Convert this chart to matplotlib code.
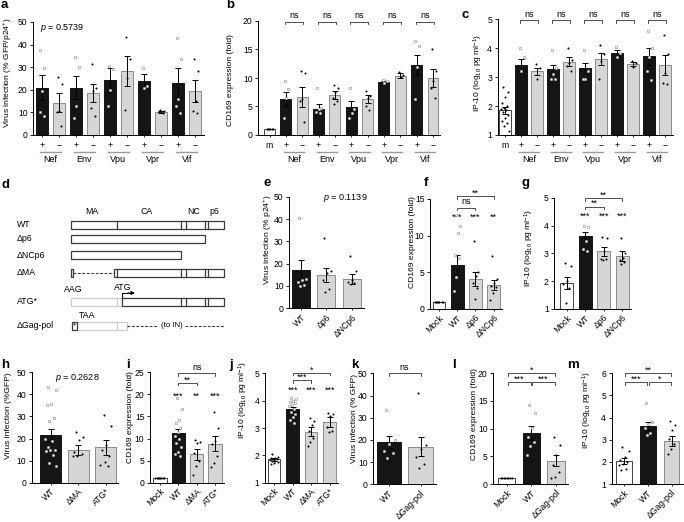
import numpy as np
import matplotlib
matplotlib.use("Agg")
import matplotlib.pyplot as plt
from matplotlib.patches import Rectangle
from matplotlib.transforms import offset_copy

plt.rcParams['font.family'] = ['Liberation Sans', 'DejaVu Sans']
plt.rcParams['mathtext.fontset'] = 'custom'
plt.rcParams['mathtext.rm'] = 'Liberation Sans'
plt.rcParams['mathtext.it'] = 'Liberation Sans:italic'
plt.rcParams['mathtext.bf'] = 'Liberation Sans:bold'
plt.rcParams['axes.linewidth'] = 0.7

W, H = 684, 522
MINUS = '\u2212'

# ---- data ----
accessory = ['Nef', 'Env', 'Vpu', 'Vpr', 'Vif']

a_mean = [21.0, 14.3, 21.0, 18.5, 24.3, 28.3, 24.0, 10.2, 23.0, 19.5]
a_sem = [5.5, 4.2, 5.0, 4.0, 5.2, 6.8, 2.8, 0.5, 6.5, 5.0]
a_pts = [[37.5, 29.5, 19.5, 10.0, 8.6], [25.5, 22.5, 10.6, 10.0, 4.1],
         [34.5, 30.0, 13.0, 7.7], [31.5, 21.0, 19.5, 11.8, 8.5],
         [30.5, 29.0, 20.0, 13.0], [43.5, 33.5, 25.0, 11.0],
         [29.5, 21.5, 21.0], [11.0, 10.5, 10.2, 10.0, 9.8],
         [43.0, 33.5, 15.9, 13.0, 9.6], [33.5, 28.5, 15.0, 10.8, 9.6]]

b_mean = [1.0, 6.3, 6.7, 4.6, 7.1, 4.9, 6.3, 9.3, 10.4, 12.3, 10.0]
b_sem = [0.0, 1.2, 1.8, 0.9, 0.7, 1.1, 0.7, 0.2, 0.4, 1.8, 1.5]
b_pts = [[1.0] * 6, [9.5, 8.0, 6.5, 3.0], [11.3, 10.8, 6.3, 6.0, 2.2],
         [8.3, 4.8, 4.5, 4.0, 3.8], [8.8, 8.3, 7.5, 6.5, 6.0, 5.5],
         [8.3, 4.5, 3.8, 3.0], [7.8, 6.8, 6.5, 5.0, 4.3], [9.6, 9.4, 9.2],
         [11.1, 10.6, 10.2], [16.5, 15.7, 12.0, 6.3], [15.0, 11.2, 9.5, 8.2, 6.5]]

c_mean = [1.85, 3.42, 3.2, 3.27, 3.53, 3.3, 3.63, 3.83, 3.45, 3.72, 3.42]
c_sem = [0.12, 0.2, 0.13, 0.15, 0.15, 0.2, 0.22, 0.1, 0.07, 0.3, 0.33]
c_pts = [[2.65, 2.5, 2.3, 2.1, 2.0, 1.95, 1.9, 1.85, 1.8, 1.7, 1.6, 1.5, 1.4, 1.3, 1.15],
         [4.0, 3.7, 3.2], [3.45, 3.3, 2.95], [3.95, 3.3, 3.1, 2.95, 2.95],
         [4.0, 3.6, 3.5, 3.4, 3.2], [3.95, 3.2, 2.95, 2.95], [4.1, 3.8, 3.55, 2.95],
         [4.05, 3.85, 3.7], [3.55, 3.5, 3.35], [4.6, 4.0, 3.7, 3.2, 2.9],
         [4.45, 3.8, 3.15, 2.8, 2.75]]

e_labels = ['WT', '\u0394p6', '\u0394NCp6']
e_mean = [17.3, 15.0, 13.3]
e_sem = [4.2, 3.0, 2.2]
e_pts = [[40.5, 13.0, 12.5, 12.0, 10.5, 10.0], [31.5, 16.5, 16.0, 12.5, 8.5, 7.5],
         [23.5, 16.5, 12.5, 12.0, 11.5, 11.0]]

f_labels = ['Mock', 'WT', '\u0394p6', '\u0394NCp6']
f_mean = [1.0, 6.0, 4.1, 3.3]
f_sem = [0.0, 1.3, 0.9, 0.7]
f_pts = [[1.0] * 7, [12.8, 11.3, 10.3, 7.3, 7.0, 4.4, 2.4], [9.3, 5.1, 4.5, 3.5, 2.8, 1.4],
         [7.2, 4.1, 3.5, 3.2, 3.0, 2.2, 1.2]]

g_mean = [1.93, 3.62, 3.07, 2.9]
g_sem = [0.22, 0.16, 0.15, 0.17]
g_pts = [[2.65, 2.55, 2.0, 1.9, 1.75, 1.2], [4.0, 3.95, 3.45, 3.15, 3.1],
         [3.6, 3.55, 3.1, 2.8, 2.8, 2.75], [3.55, 3.0, 2.85, 2.75, 2.7, 2.6]]

h_labels = ['WT', '\u0394MA', 'ATG*']
h_mean = [21.5, 15.0, 16.0]
h_sem = [3.0, 2.3, 3.5]
h_pts = [[43.5, 42.0, 35.5, 35.0, 29.5, 28.0, 20.0, 19.0, 16.0, 15.0, 15.0, 14.5, 12.5, 9.0, 7.5],
         [23.0, 20.5, 19.5, 14.0, 13.0, 12.0, 12.0],
         [30.5, 25.5, 17.0, 15.0, 12.0, 9.5, 8.0, 7.5]]

i_labels = ['Mock', 'WT', '\u0394MA', 'ATG*']
i_mean = [1.0, 11.2, 6.4, 8.8]
i_sem = [0.0, 1.0, 1.3, 1.7]
i_pts = [[1.0] * 8, [19.2, 16.7, 14.3, 13.5, 12.5, 11.5, 10.5, 10.0, 9.0, 8.0, 7.0, 6.5, 6.0],
         [9.6, 9.3, 9.0, 6.8, 5.0, 3.8, 1.7], [16.0, 12.5, 9.5, 8.7, 6.0, 4.5, 3.5]]

j_mean = [1.85, 3.68, 2.87, 3.22]
j_sem = [0.05, 0.1, 0.15, 0.18]
j_pts = [[2.05, 1.95, 1.92, 1.9, 1.88, 1.85, 1.83, 1.8, 1.78, 1.75, 1.72, 1.7],
         [4.1, 4.05, 4.0, 3.95, 3.9, 3.85, 3.8, 3.7, 3.6, 3.5, 3.4, 3.3, 3.2],
         [3.35, 3.25, 3.1, 2.9, 2.65, 2.5, 2.35], [3.55, 3.5, 3.45, 3.05, 2.9, 2.85]]

k_labels = ['WT', '\u0394Gag-pol']
k_mean = [19.0, 17.0]
k_sem = [2.8, 4.2]
k_pts = [[33.5, 20.0, 18.0, 15.0, 14.0, 12.0], [41.0, 17.5, 16.0, 12.5, 9.0, 7.5]]

l_labels = ['Mock', 'WT', '\u0394Gag-pol']
l_mean = [1.0, 9.2, 4.2]
l_sem = [0.0, 1.2, 1.0]
l_pts = [[1.0] * 8, [14.2, 12.8, 10.2, 8.5, 7.5, 6.8, 5.3], [8.5, 7.0, 5.2, 3.5, 2.2, 1.3, 1.0]]

m_mean = [2.05, 3.63, 2.93]
m_sem = [0.13, 0.19, 0.22]
m_pts = [[2.65, 2.5, 2.2, 2.1, 2.0, 1.9, 1.85, 1.7, 1.65], [4.65, 3.8, 3.7, 3.55, 3.3, 3.2],
         [3.85, 3.65, 3.45, 3.05, 2.8, 2.6, 2.35]]

# gag schematic (panel d)
construct_names = ['WT', '\u0394p6', '\u0394NCp6', '\u0394MA', 'ATG*', '\u0394Gag-pol']
domain_names = ['MA', 'CA', 'NC', 'p6']
gag_bounds = [71, 116.7, 180.5, 186, 205, 208, 224]

BLACK = '#151515'
GRAY = '#d6d6d6'
GRAY_EDGE = '#8c8c8c'
LAB = 'IP-10 (log$_{10}$ pg ml$^{-1}$)'

fig = plt.figure(figsize=(W / 100, H / 100), dpi=100)


def px_axes(l, r, t, b):
    return fig.add_axes([l / W, 1 - b / H, (r - l) / W, (b - t) / H])


def spread(n, w):
    if n == 1:
        return np.zeros(1)
    return (((np.arange(n) * 0.618 + 0.31) % 1.0) - 0.5) * 2 * w


def panel(box, c0, sp, ylim, yticks, means, sems, pts, kinds, width, ylabel, lab_xy, labels=None):
    l, r, t, b = box
    ax = px_axes(l, r, t, b)
    ax.set_xlim((l - c0) / sp, (r - c0) / sp)
    ax.set_ylim(ylim)
    ax.set_yticks(yticks)
    for s in ['top', 'right']:
        ax.spines[s].set_visible(False)
    ax.tick_params(axis='y', length=2.5, width=0.6, pad=1.5, labelsize=6.2)
    ax.tick_params(axis='x', length=1.5, width=0.6, pad=1.5, labelsize=6.2)
    base = ylim[0]
    x = np.arange(len(means))
    for xi, mval, sval, p, k in zip(x, means, sems, pts, kinds):
        fc, ec = {'k': (BLACK, BLACK), 'g': (GRAY, GRAY_EDGE), 'w': ('white', '#444444')}[k]
        ax.bar(xi, mval - base, width, bottom=base, color=fc, edgecolor=ec, linewidth=0.7, zorder=2)
        if sval > 0:
            ax.errorbar(xi, mval, yerr=sval, fmt='none', ecolor='black', elinewidth=0.7,
                        capsize=2, capthick=0.7, zorder=3)
        offs = spread(len(p), width * (0.36 if k == 'w' else 0.28))
        if k == 'k':
            ax.scatter(xi + offs, p, s=3.5, facecolor='white', edgecolor='#888888', linewidth=0.4, zorder=4)
        else:
            ax.scatter(xi + offs, p, s=2.2, color='black', linewidth=0, zorder=4)
    ax.set_xticks(x)
    if labels is not None:
        ax.set_xticklabels(labels, rotation=45, ha='right', rotation_mode='anchor')
    fig.text(lab_xy[0] / W, 1 - lab_xy[1] / H, ylabel, rotation=90, ha='center', va='center', fontsize=6.1)
    return ax


def drop_of(ax):
    y0, y1 = ax.get_ylim()
    return 2.6 * (y1 - y0) / (ax.get_position().height * H)


def bracket(ax, x1, x2, y, label):
    d = drop_of(ax)
    ax.plot([x1, x1, x2, x2], [y - d, y, y, y - d], color='#333333', lw=0.6, clip_on=False)
    off = 2.5 if label == 'ns' else 0.3
    ax.annotate(label, ((x1 + x2) / 2, y), xytext=(0, off), textcoords='offset points',
                ha='center', va='baseline', fontsize=6.5, annotation_clip=False)


def stars(ax, xs, y, marks):
    for xi, s in zip(xs, marks):
        ax.annotate(s, (xi, y), xytext=(0, -3.6), textcoords='offset points',
                    ha='center', va='baseline', fontsize=6.5, annotation_clip=False)


def pm_axis(ax, first, groups):
    n = len(ax.get_xticks())
    labs = []
    if first:
        labs.append(first)
    while len(labs) < n:
        labs += ['+', MINUS]
    ax.set_xticklabels(labs)
    ax.tick_params(axis='x', pad=2.5)
    start = 1 if first else 0
    tr_line = offset_copy(ax.get_xaxis_transform(), fig=fig, y=-12.3, units='points')
    tr_text = offset_copy(ax.get_xaxis_transform(), fig=fig, y=-17.8, units='points')
    for gi, name in enumerate(groups):
        x1 = start + 2 * gi
        ax.plot([x1 - 0.12, x1 + 1.12], [0, 0], color='#9a9a9a', lw=1.0, transform=tr_line, clip_on=False)
        ax.text(x1 + 0.5, 0, name, transform=tr_text, ha='center', va='center', fontsize=6.5)


def letter(s, x, y):
    fig.text(x / W, 1 - y / H, s, fontsize=9.5, fontweight='bold', ha='left', va='baseline')


# ---- row 1 ----
kinds_pm = ['k', 'g'] * 5
ax = panel((33.3, 203.5, 22, 135), 41.7, 17.06, (0, 50), range(0, 51, 10), a_mean, a_sem, a_pts,
           kinds_pm, 0.68, 'Virus infection (% GFP/p24$^{+}$)', (8.3, 73))
pm_axis(ax, None, accessory)
ax.text(-0.1, 47.5, '$p$ = 0.5739', fontsize=6.5, ha='left', va='center')

ax = panel((258.3, 440, 21, 135), 269.5, 16.35, (0, 20), range(0, 21, 5), b_mean, b_sem, b_pts,
           ['w'] + kinds_pm, 0.67, 'CD169 expression (fold)', (231, 80))
pm_axis(ax, 'm', accessory)
for gi in range(5):
    bracket(ax, 1 + 2 * gi - 0.05, 2 + 2 * gi + 0.05, 19.9, 'ns')

ax = panel((497.7, 673, 19.3, 135), 505, 16.0, (1, 5), range(1, 6), c_mean, c_sem, c_pts,
           ['w'] + kinds_pm, 0.69, LAB, (478, 73))
pm_axis(ax, 'm', accessory)
for gi in range(5):
    bracket(ax, 1 + 2 * gi - 0.05, 2 + 2 * gi + 0.05, 4.96, 'ns')

# ---- row 2 ----
ax = panel((289.3, 364, 196.7, 308.3), 301.2, 25.2, (0, 50), range(0, 51, 10), e_mean, e_sem, e_pts,
           ['k', 'g', 'g'], 0.72, 'Virus infection (% p24$^{+}$)', (268, 240), e_labels)
ax.text(2.62, 49.5, '$p$ = 0.1139', fontsize=6.5, ha='right', va='center')

ax = panel((430, 502, 199, 309), 439, 18.2, (0, 15), range(0, 16, 5), f_mean, f_sem, f_pts,
           ['w', 'k', 'g', 'g'], 0.7, 'CD169 expression (fold)', (412, 242), f_labels)
stars(ax, [1, 2, 3], 12.8, ['***', '***', '**'])
bracket(ax, 1, 2, 13.8, 'ns')
bracket(ax, 1, 3, 15.4, '**')

ax = panel((554.3, 631, 197.7, 309), 566.7, 18.5, (1, 5), range(1, 6), g_mean, g_sem, g_pts,
           ['w', 'k', 'g', 'g'], 0.72, LAB, (529, 248), f_labels)
stars(ax, [1, 2, 3], 4.41, ['***', '***', '***'])
bracket(ax, 1, 2, 4.68, '**')
bracket(ax, 1, 3, 4.98, '**')

# ---- row 3 ----
ax = panel((31.7, 118, 372.3, 482.7), 50.5, 27.7, (0, 50), range(0, 51, 10), h_mean, h_sem, h_pts,
           ['k', 'g', 'g'], 0.76, 'Virus infection (%GFP)', (9, 416), h_labels)
ax.text(0.16, 47.3, '$p$ = 0.2628', fontsize=6.5, ha='left', va='center')

ax = panel((150, 224, 372.3, 482.7), 160, 18.33, (0, 25), range(0, 26, 5), i_mean, i_sem, i_pts,
           ['w', 'k', 'g', 'g'], 0.73, 'CD169 expression (fold)', (130, 417), i_labels)
stars(ax, [1, 2, 3], 20.2, ['***', '**', '***'])
bracket(ax, 1, 2, 22.6, '**')
bracket(ax, 1, 3, 24.8, 'ns')

ax = panel((265, 338, 373.3, 482.7), 274.2, 18.5, (1, 5), range(1, 6), j_mean, j_sem, j_pts,
           ['w', 'k', 'g', 'g'], 0.68, LAB, (243, 400), i_labels)
stars(ax, [1, 2, 3], 4.47, ['***', '***', '***'])
bracket(ax, 1, 2, 4.75, '***')
bracket(ax, 1, 3, 5.02, '*')

ax = panel((373.3, 436, 373.3, 484.3), 388.8, 31.7, (0, 50), range(0, 51, 10), k_mean, k_sem, k_pts,
           ['k', 'g'], 0.77, 'Virus infection (% GFP)', (354, 418), k_labels)
bracket(ax, 0, 1, 50, 'ns')

ax = panel((493.3, 568, 373.3, 484), 506.7, 24.6, (0, 20), range(0, 21, 5), l_mean, l_sem, l_pts,
           ['w', 'k', 'g'], 0.71, 'CD169 expression (fold)', (474, 414), l_labels)
bracket(ax, 0.05, 0.97, 18.4, '***')
bracket(ax, 1.03, 1.95, 18.4, '***')
bracket(ax, 0.05, 1.95, 20.0, '*')

ax = panel((611.7, 683, 373.3, 484), 624.2, 23.75, (1, 6), range(1, 7), m_mean, m_sem, m_pts,
           ['w', 'k', 'g'], 0.65, LAB, (587, 410), l_labels)
bracket(ax, 0.05, 0.97, 5.6, '***')
bracket(ax, 1.03, 1.95, 5.6, '*')
bracket(ax, 0.05, 1.95, 6.0, '**')

# ---- panel d: schematic ----
dax = px_axes(0, 230, 175, 345)
dax.set_xlim(0, 230)
dax.set_ylim(345, 175)
dax.axis('off')
DK, LT = '#3a3a3a', '#cccccc'
bh = 8.0


def gbox(y, x0, x1, divs, ec=DK, lw=0.9):
    dax.add_patch(Rectangle((x0, y - bh / 2), x1 - x0, bh, facecolor='white', edgecolor=ec, lw=lw))
    for dv in divs:
        dax.plot([dv, dv], [y - bh / 2, y + bh / 2], color=ec, lw=lw)


row_y = [224.5, 238.5, 255, 272.5, 301.5, 325.5]
for name, y in zip(construct_names, row_y):
    dax.text(17, y, name, fontsize=6.3, ha='left', va='center')

mids = [(gag_bounds[0] + gag_bounds[1]) / 2, (gag_bounds[1] + gag_bounds[2]) / 2,
        (gag_bounds[3] + gag_bounds[4]) / 2, (gag_bounds[5] + gag_bounds[6]) / 2]
for nm, xm in zip(domain_names, mids):
    dax.text(xm - 2, 211, nm, fontsize=6.3, ha='center', va='center')

inner = gag_bounds[1:-1]
gbox(row_y[0], gag_bounds[0], gag_bounds[-1], inner)
gbox(row_y[1], gag_bounds[0], gag_bounds[4], [])
gbox(row_y[2], gag_bounds[0], gag_bounds[2], [])
# dMA
gbox(row_y[3], 71, 73.3, [])
dax.plot([73.3, 114.3], [row_y[3]] * 2, color=DK, lw=0.8, ls=(0, (2.5, 1.5)))
gbox(row_y[3], 114.3, gag_bounds[-1], inner)
# ATG*
gbox(row_y[4], 71, 121.7, [116.7], ec=LT)
gbox(row_y[4], 121.7, gag_bounds[-1], gag_bounds[2:-1])
dax.text(73, 290, 'AAG', fontsize=6.3, ha='center', va='center')
dax.text(123, 287, 'ATG', fontsize=6.3, ha='center', va='center')
dax.plot([121.7, 121.7, 130], [row_y[4] - bh / 2, 293, 293], color='black', lw=0.8)
dax.annotate('', xy=(135, 293), xytext=(128, 293),
             arrowprops=dict(arrowstyle='-|>', lw=0.8, color='black', mutation_scale=5,
                             shrinkA=0, shrinkB=0))
# dGag-pol
gbox(row_y[5], 77.3, 126.7, [117], ec=LT)
gbox(row_y[5], 71.7, 77.3, [])
dax.text(74.5, row_y[5] + 0.8, '*', fontsize=6, ha='center', va='center')
dax.plot([126.7, 158], [row_y[5]] * 2, color=DK, lw=0.8, ls=(0, (2.5, 1.5)))
dax.plot([185, 224], [row_y[5]] * 2, color=DK, lw=0.8, ls=(0, (2.5, 1.5)))
dax.text(171.5, row_y[5], '(to IN)', fontsize=5.6, ha='center', va='center')
dax.text(87, 315, 'TAA', fontsize=6.3, ha='center', va='center')

# ---- panel letters ----
for s, x, y in [('a', 1, 8.5), ('b', 226, 8.5), ('c', 462, 18), ('d', 2, 187.5), ('e', 263, 186.5),
                ('f', 424, 186.5), ('g', 522, 186), ('h', 1, 368), ('i', 126.5, 368), ('j', 229, 368),
                ('k', 351.5, 368), ('l', 452.5, 368), ('m', 567.5, 368)]:
    letter(s, x, y)

fig.savefig('out.png', dpi=100)
